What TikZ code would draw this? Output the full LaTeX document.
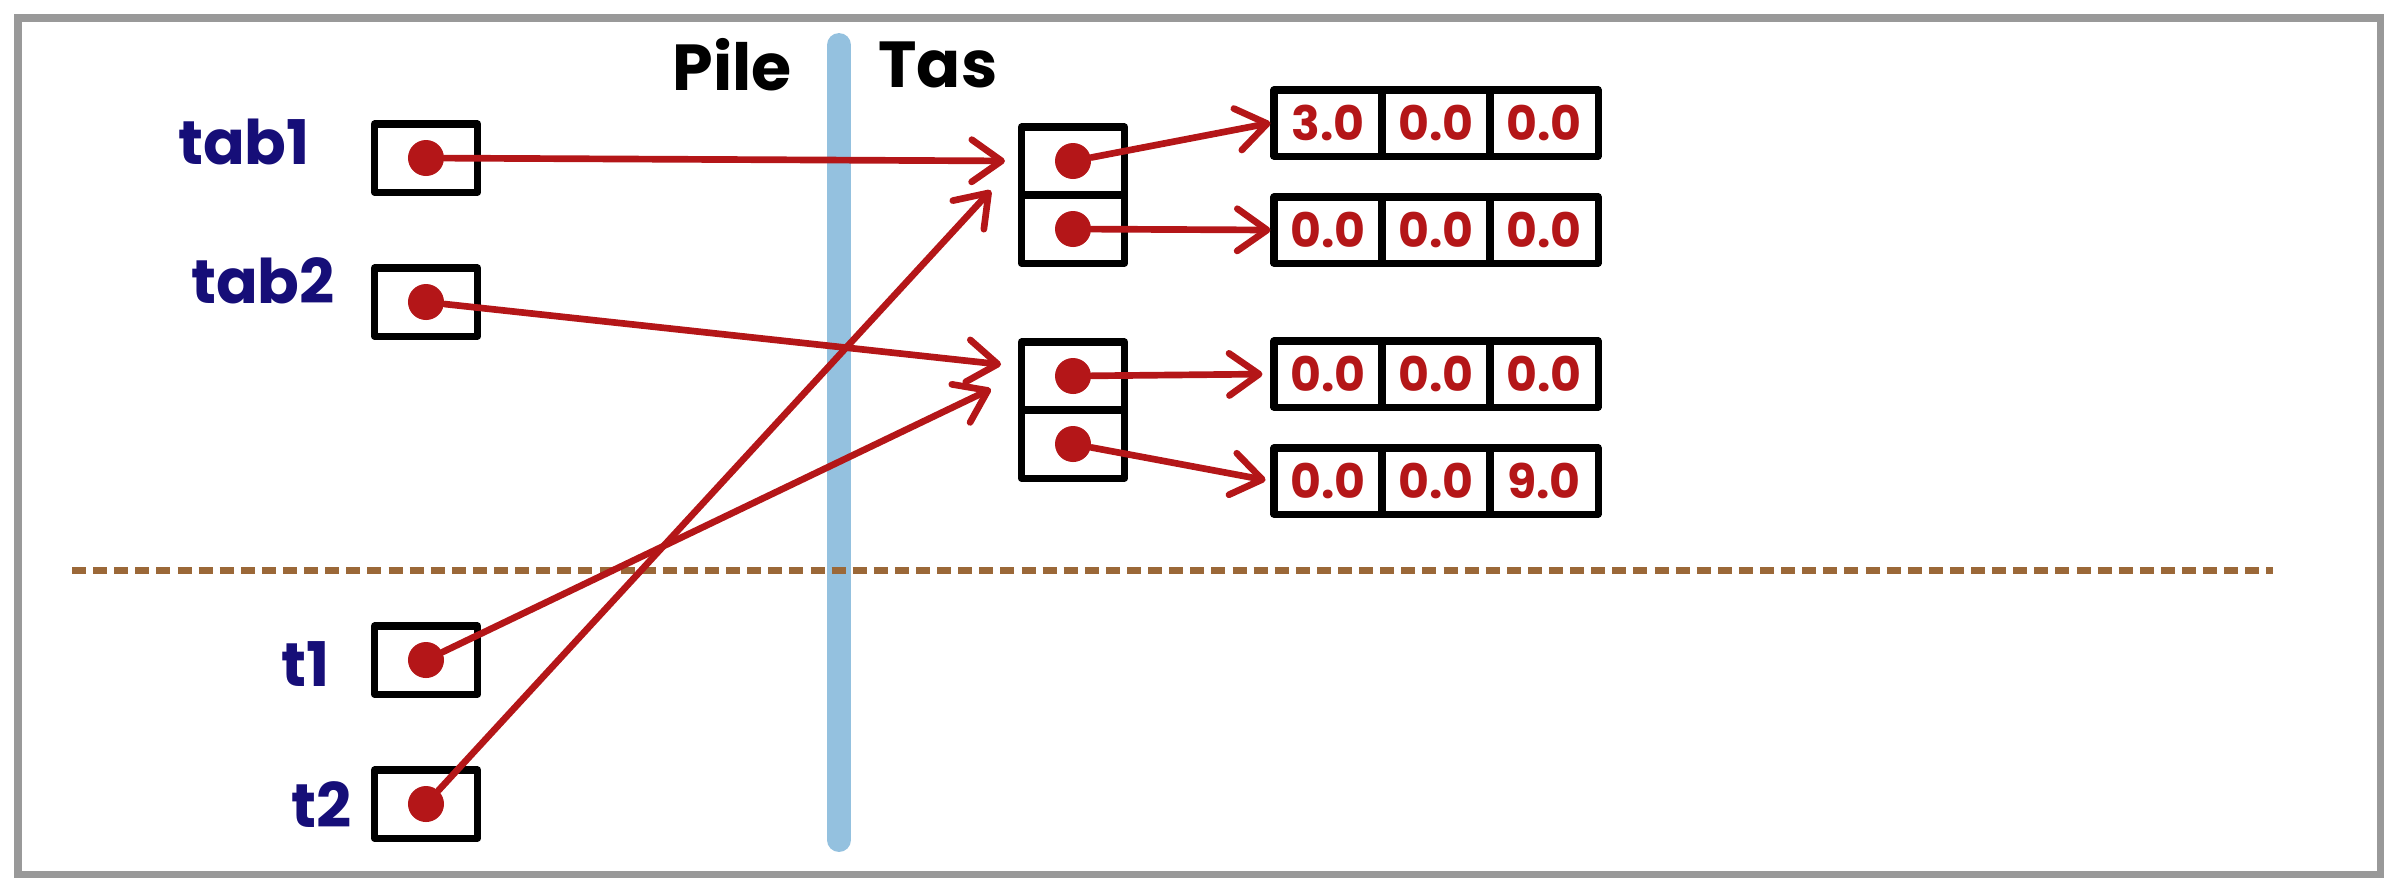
\documentclass[tikz,border=0pt]{standalone}
\usepackage{fontspec}
\setmainfont{Poppins}
\usetikzlibrary{arrows.meta}
\definecolor{refred}{RGB}{180,22,24}
\definecolor{varblue}{RGB}{22,14,120}
\definecolor{barblue}{RGB}{148,193,223}
\definecolor{sepbrown}{RGB}{155,104,56}
\definecolor{framegray}{RGB}{153,153,153}

\begin{document}
\begin{tikzpicture}[x=0.01cm,y=-0.01cm,
  cell/.style={draw,line width=2pt,line join=round,minimum width=1.03cm,minimum height=0.68cm,inner sep=0pt},
  val/.style={cell,minimum width=1.08cm,minimum height=0.66cm,text=refred,font=\fontsize{13.5}{13.5}\selectfont\bfseries},
  dot/.style={circle,fill=refred,minimum size=0.36cm,inner sep=0pt},
  var/.style={text=varblue,font=\fontsize{17.5}{17.5}\selectfont\bfseries},
  zone/.style={font=\fontsize{18.5}{18.5}\selectfont\bfseries},
  ref/.style={->,refred,line width=1.9pt,line cap=round,>={Straight Barb[round,length=8.5pt,width=12pt]}}]
\useasboundingbox (0,0) rectangle (2394,890);
\draw[framegray,line width=2pt] (18,18) rectangle (2380,874);
\draw[barblue,line width=6.8pt,line cap=round] (839,45) -- (839,840);
\draw[sepbrown,line width=2pt,dash pattern=on 4pt off 2pt] (72,570) -- (2273,570);

\node[zone] (pile) at (732,65) {Pile};
\node[zone] (tas) at (938,65) {Tas};

% pile
\node[var] (ltab1) at (244,142) {tab1};
\node[var] (ltab2) at (263,281) {tab2};
\node[var] (lt1) at (306,664) {t1};
\node[var] (lt2) at (322,805) {t2};
\node[cell] (tab1) at (426,158) {};
\node[cell] (tab2) at (426,302) {};
\node[cell] (t1) at (426,660) {};
\node[cell] (t2) at (426,804) {};
\foreach \v in {tab1,tab2,t1,t2}
  \node[dot] (p\v) at (\v.center) {};

% tas
\node[cell] (h1a) at (1073,161) {};
\node[cell] (h1b) at (1073,229) {};
\node[cell] (h2a) at (1073,376) {};
\node[cell] (h2b) at (1073,444) {};
\foreach \h in {h1a,h1b,h2a,h2b}
  \node[dot] (p\h) at (\h.center) {};

\foreach \r/\y/\a/\b/\c in {1/123/3.0/0.0/0.0,2/230/0.0/0.0/0.0,3/374/0.0/0.0/0.0,4/481/0.0/0.0/9.0}{
  \node[val] (arr\r) at (1328,\y) {\a};
  \node[val] (arr\r b) at (1436,\y) {\b};
  \node[val] (arr\r c) at (1544,\y) {\c};
}

\path[ref]
(ptab1) edge[shorten >=0.13cm] (h1a.west)
(ptab2) edge[shorten >=0.17cm] (h2a.170)
(pt1) edge[shorten >=0.3cm] (h2a.west)
(pt2) edge[shorten >=0.4cm] (h1a.west);
\path[ref]
(ph1a) edge (arr1.west)
(ph1b) edge (arr2.west)
(ph2a) edge[shorten >=0.08cm] (arr3.west)
(ph2b) edge[shorten >=0.05cm] (arr4.west);
\end{tikzpicture}
\end{document}
